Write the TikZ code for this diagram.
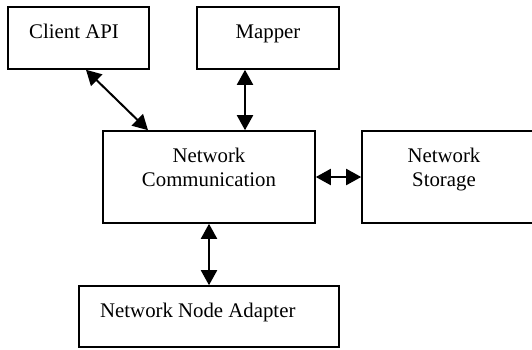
\documentclass[tikz,border=0pt]{standalone}
\usepackage{fontspec}
\setmainfont{Liberation Serif}
\usetikzlibrary{arrows.meta}
\begin{document}
\begin{tikzpicture}[x=1pt,y=-1pt,
  box/.style={draw, line width=1.6pt, rectangle, inner sep=0pt},
  lbl/.style={anchor=base, inner sep=0pt, font=\fontsize{20.8}{24}\selectfont},
  link/.style={line width=2pt, {Triangle[length=15pt,width=16pt]}-{Triangle[length=15pt,width=16pt]}}]
\useasboundingbox (0,0) rectangle (532,349);
\node[box, minimum width=141pt, minimum height=62pt] (client) at (78.5,38) {};
\node[box, minimum width=142pt, minimum height=62pt] (mapper) at (268,38) {};
\node[box, minimum width=212pt, minimum height=92pt] (comm) at (209,177) {};
\node[box, minimum width=171pt, minimum height=92pt] (storage) at (447.5,177) {};
\node[box, minimum width=260pt, minimum height=61pt] (adapter) at (209,316.5) {};
\node[lbl] (t1) at (74,38) {Client API};
\node[lbl] (t2) at (268,38) {Mapper};
\node[lbl] (t3) at (209,162) {Network};
\node[lbl] (t4) at (209,186) {Communication};
\node[lbl] (t5) at (444,162) {Network};
\node[lbl] (t6) at (444,186) {Storage};
\node[lbl, anchor=base west] (t7) at (100,317) {Network Node Adapter};
\draw[link] ([xshift=7.5pt]client.south) -- ([xshift=-61pt]comm.north);
\draw[link] ([xshift=-23pt]mapper.south) -- ([xshift=36pt]comm.north);
\draw[link] (comm.east) -- (storage.west);
\draw[link] (comm.south) -- (adapter.north);
\end{tikzpicture}
\end{document}
